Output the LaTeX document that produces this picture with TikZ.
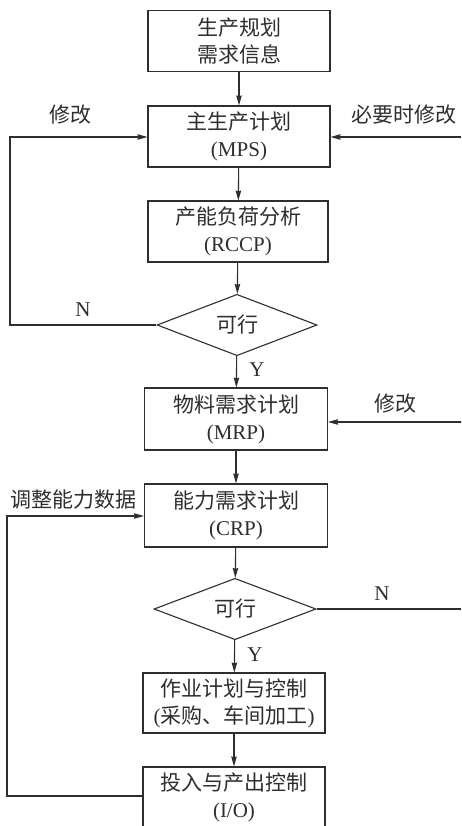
\documentclass[tikz,border=0pt]{standalone}
\usepackage{fontspec}
\setmainfont{Liberation Serif}
\newfontfamily\cjk{Noto Sans CJK SC}
\usetikzlibrary{arrows.meta,shapes.geometric}
\definecolor{ink}{HTML}{2E2E2E}
\begin{document}
\begin{tikzpicture}[x=1pt,y=-1pt,
  box/.style={draw=ink,line width=1.1pt,minimum width=182pt,minimum height=61pt,inner sep=0pt,align=center,text=ink,font=\fontsize{21}{27}\selectfont},
  dia/.style={draw=ink,line width=1.1pt,diamond,minimum width=160pt,minimum height=57pt,inner sep=0pt,text=ink,font=\cjk\fontsize{21}{24}\selectfont},
  lab/.style={inner sep=0pt,text=ink,font=\fontsize{21}{24}\selectfont},
  conn/.style={draw=ink,line width=1.1pt},
  arr/.style={conn,-{Stealth[length=10pt,width=5.5pt,inset=1pt]}}]
\fill[white] (0,0) rectangle (461,826);
\clip (0,0) rectangle (461,826);
% boxes
\node[box] (b1) at (239,41) {{\cjk 生产规划}\\{\cjk 需求信息}};
\node[box] (b2) at (239,136.5) {{\cjk 主生产计划}\\(MPS)};
\node[box,minimum width=180pt] (b3) at (238,231.5) {{\cjk 产能负荷分析}\\(RCCP)};
\node[dia] (d1) at (237,325) {可行};
\node[box,minimum width=183pt,minimum height=62pt] (b4) at (236,419) {{\cjk 物料需求计划}\\(MRP)};
\node[box,minimum width=183pt,minimum height=63pt] (b5) at (236,515.5) {{\cjk 能力需求计划}\\(CRP)};
\node[dia,minimum width=162pt,minimum height=58pt] (d2) at (235,609) {可行};
\node[box,minimum height=60pt] (b6) at (234,703) {{\cjk 作业计划与控制}\\({\cjk 采购、车间加工})};
\node[box,minimum height=60pt] (b7) at (234,797) {{\cjk 投入与产出控制}\\(I/O)};
% coordinates
\coordinate (L1) at (10,325);
\coordinate (L1t) at (10,137);
\coordinate (L2) at (7,796);
\coordinate (L2t) at (7,516);
\coordinate (R1) at (462,137);
\coordinate (R2) at (462,422);
\coordinate (R3) at (462,609);
% main flow
\draw[arr] (b1) -- (b2);
\draw[arr] (b2) -- (b3);
\draw[arr] (b3) -- (d1);
\draw[arr] (d1) -- (b4);
\draw[arr] (b4) -- (b5);
\draw[arr] (b5) -- (d2);
\draw[arr] (d2) -- (b6);
\draw[arr] (b6) -- (b7);
% loops
\draw[arr] (d1.west) -- (L1) -- (L1t) -- (b2.west |- L1t);
\draw[arr] (b7.west |- L2) -- (L2) -- (L2t) -- (b5.west |- L2t);
\draw[arr] (R1) -- (b2.east |- R1);
\draw[arr] (R2) -- (b4.east |- R2);
\draw[conn] (d2.east) -- (R3);
% labels
\node[lab] (t1) at (70,115) {\cjk 修改};
\node[lab] (t2) at (404,115) {\cjk 必要时修改};
\node[lab] (n1) at (83,310) {N};
\node[lab] (y1) at (257,370) {Y};
\node[lab] (t3) at (395,404) {\cjk 修改};
\node[lab] (t4) at (73,500) {\cjk 调整能力数据};
\node[lab] (n2) at (382,594) {N};
\node[lab] (y2) at (255,655) {Y};
\end{tikzpicture}
\end{document}
